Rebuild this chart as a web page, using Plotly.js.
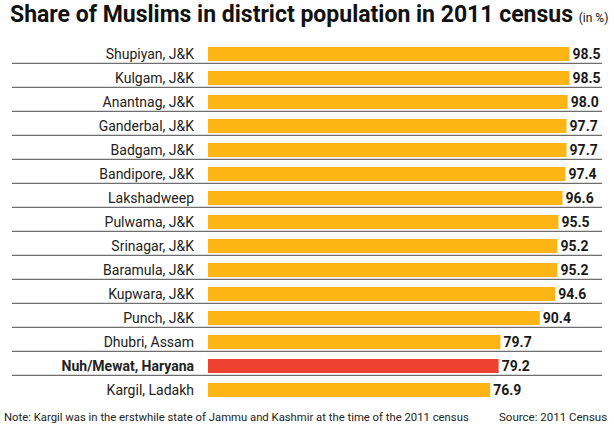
<!DOCTYPE html>
<html>
<head>
<meta charset="utf-8">
<script src="https://cdn.plot.ly/plotly-3.0.1.min.js"></script>
<style>html,body{margin:0;padding:0;background:#fff;}#chart{width:614px;height:436px;}</style>
</head>
<body>
<div id="chart"></div>
<script>
const districts = ["Shupiyan, J&K","Kulgam, J&K","Anantnag, J&K","Ganderbal, J&K","Badgam, J&K","Bandipore, J&K","Lakshadweep","Pulwama, J&K","Srinagar, J&K","Baramula, J&K","Kupwara, J&K","Punch, J&K","Dhubri, Assam","Nuh/Mewat, Haryana","Kargil, Ladakh"];
const shares = [98.5,98.5,98.0,97.7,97.7,97.4,96.6,95.5,95.2,95.2,94.6,90.4,79.7,79.2,76.9];
const highlight = "Nuh/Mewat, Haryana";

const FONT = "Roboto, Liberation Sans, sans-serif";
const W = 614, H = 436, ML = 208, MR = 12, MT = 42, MB = 34;
const plotW = W - ML - MR;

const labels = districts.map(d => d === highlight ? "<b>" + d + "</b>" : d);
const colors = districts.map(d => d === highlight ? "#EE4130" : "#FDB515");

const trace = {
  type: "bar",
  orientation: "h",
  y: labels,
  x: shares,
  marker: {color: colors},
  text: shares.map(v => v.toFixed(1)),
  textposition: "outside",
  constraintext: "none",
  textfont: {family: FONT, size: 14, color: "#1a1a1a", weight: "bold"},
  cliponaxis: false,
  hoverinfo: "none"
};

const shapes = [];
for (let k = 0; k < districts.length - 1; k++) {
  shapes.push({
    type: "line", xref: "paper", yref: "y",
    x0: (12 - ML) / plotW, x1: 1,
    y0: k + 0.39, y1: k + 0.39,
    line: {color: "#6e6e6e", width: 1.2}
  });
}

const footY = -(417 - (H - MB)) / (H - MT - MB);

const layout = {
  width: W, height: H,
  margin: {l: ML, r: MR, t: MT, b: MB, pad: 0},
  paper_bgcolor: "#fff", plot_bgcolor: "#fff",
  showlegend: false,
  bargap: 0.42,
  title: {
    text: "<b>Share of Muslims in district population in 2011 census</b> <span style='font-size:12px'>(in %)</span>",
    font: {family: FONT, size: 23, color: "#111"},
    xref: "container", yref: "container",
    x: 10 / W, xanchor: "left",
    y: 1 - 14 / H, yanchor: "middle"
  },
  xaxis: {range: [0, plotW / 3.67], visible: false, fixedrange: true},
  yaxis: {
    type: "category",
    autorange: "reversed",
    showgrid: false, zeroline: false, showline: false,
    ticks: "",
    ticklabelstandoff: 13,
    tickfont: {family: FONT, size: 14, color: "#222"}
  },
  shapes: shapes,
  annotations: [
    {text: "Note: Kargil was in the erstwhile state of Jammu and Kashmir at the time of the 2011 census",
     xref: "paper", yref: "paper", x: (2 - ML) / plotW, xanchor: "left",
     y: footY, yanchor: "middle",
     showarrow: false, font: {family: FONT, size: 11.3, color: "#222"}},
    {text: "Source: 2011 Census",
     xref: "paper", yref: "paper", x: (609 - ML) / plotW, xanchor: "right",
     y: footY, yanchor: "middle",
     showarrow: false, font: {family: FONT, size: 11.5, color: "#222"}}
  ]
};

Plotly.newPlot("chart", [trace], layout, {displayModeBar: false, staticPlot: true});
</script>
</body>
</html>
